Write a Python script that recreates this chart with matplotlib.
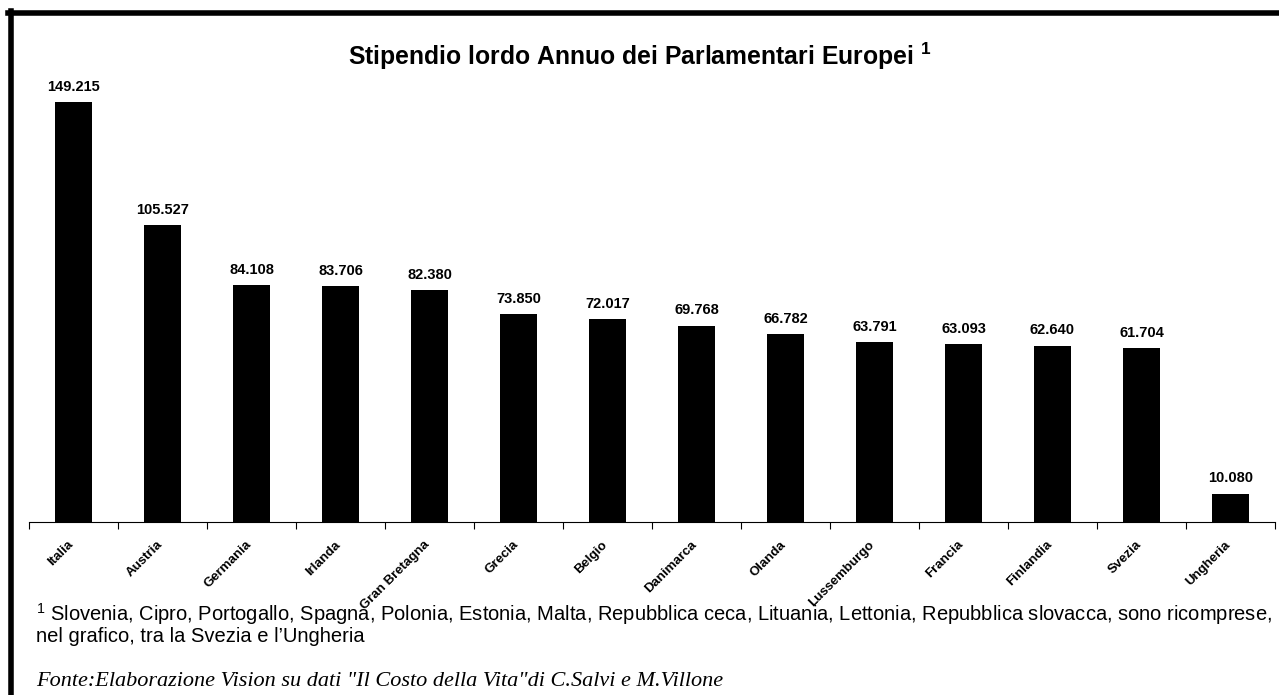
import matplotlib
matplotlib.use("Agg")
import matplotlib.pyplot as plt
import matplotlib.transforms as mtransforms
from matplotlib.lines import Line2D

paesi = ["Italia", "Austria", "Germania", "Irlanda", "Gran Bretagna", "Grecia", "Belgio",
         "Danimarca", "Olanda", "Lussemburgo", "Francia", "Finlandia", "Svezia", "Ungheria"]
stipendi = [149.215, 105.527, 84.108, 83.706, 82.380, 73.850, 72.017,
            69.768, 66.782, 63.791, 63.093, 62.640, 61.704, 10.080]
etichette = ["149.215", "105.527", "84.108", "83.706", "82.380", "73.850", "72.017",
             "69.768", "66.782", "63.791", "63.093", "62.640", "61.704", "10.080"]

plt.rcParams['font.family'] = ['Liberation Sans', 'DejaVu Sans']
plt.rcParams['mathtext.fontset'] = 'custom'
plt.rcParams['mathtext.rm'] = 'Liberation Sans'
plt.rcParams['mathtext.bf'] = 'Liberation Sans:bold'

W, H = 1279, 695
fig = plt.figure(figsize=(W / 100, H / 100), dpi=100)

# axes: x from 29 to 1275 px, y bottom 522, top 60
left, right = 29, 1275
bottom, top = 522, 60
ax = fig.add_axes([left / W, 1 - bottom / H, (right - left) / W, (bottom - top) / H])

x = list(range(len(paesi)))
ax.bar(x, stipendi, width=0.42, color="black", zorder=3)
ax.set_xlim(-0.5, len(paesi) - 0.5)
ax.set_ylim(0, (bottom - top) / 2.815)

for xi, v, t in zip(x, stipendi, etichette):
    ax.annotate(t, (xi, v), xytext=(0, 6), textcoords="offset points",
                ha="center", va="bottom", fontsize=10.5, fontweight="bold")

for s in ["top", "right", "left"]:
    ax.spines[s].set_visible(False)
ax.spines["bottom"].set_linewidth(0.8)
ax.set_yticks([])
ax.set_xticks([i - 0.5 for i in range(len(paesi) + 1)], minor=False)
ax.set_xticklabels([])
ax.tick_params(axis="x", length=5, width=0.8, direction="out")
ax.set_xticks(x, minor=True)
ax.set_xticklabels(paesi, minor=True, rotation=45, ha="right", va="top",
                   rotation_mode="anchor", fontsize=9.5, fontweight="bold")
ax.tick_params(axis="x", which="minor", length=0, pad=12)
shift = mtransforms.ScaledTranslation(-6 / 100, 0, fig.dpi_scale_trans)
for lab in ax.get_xticklabels(minor=True):
    lab.set_transform(lab.get_transform() + shift)
ax.patch.set_alpha(0)

fig.text(640 / W, 1 - 56 / H, "Stipendio lordo Annuo dei Parlamentari Europei $^{\\mathbf{1}}$",
         ha="center", va="center", fontsize=17.8, fontweight="bold")

fig.text(36 / W, 1 - 614 / H,
         "$^{1}$ Slovenia, Cipro, Portogallo, Spagna, Polonia, Estonia, Malta, Repubblica ceca, "
         "Lituania, Lettonia, Repubblica slovacca, sono ricomprese,",
         ha="left", va="center", fontsize=14.5)
fig.text(36 / W, 1 - 636 / H, "nel grafico, tra la Svezia e l\u2019Ungheria",
         ha="left", va="center", fontsize=14.5)
fig.text(36 / W, 1 - 681 / H,
         "Fonte:Elaborazione Vision su dati \"Il Costo della Vita\"di C.Salvi e M.Villone",
         ha="left", va="center", fontsize=16, style="italic", family="Liberation Serif")

# frame border (top and left)
fig.add_artist(Line2D([8 / W, 1], [1 - 12.5 / H, 1 - 12.5 / H], color="black", lw=4,
                      transform=fig.transFigure))
fig.add_artist(Line2D([10.5 / W, 10.5 / W], [1 - 10.5 / H, 0], color="black", lw=4,
                      transform=fig.transFigure))

fig.savefig("out.png", dpi=100)
